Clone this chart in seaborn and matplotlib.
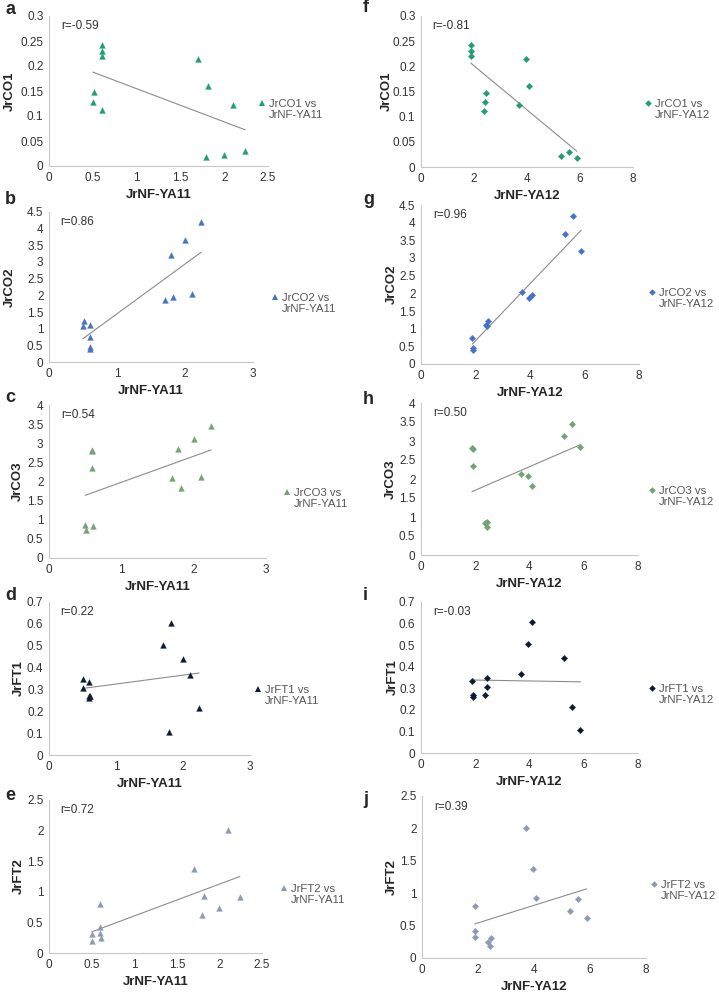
import numpy as np
import pandas as pd
import matplotlib
matplotlib.use("Agg")
import matplotlib.pyplot as plt
import seaborn as sns
from matplotlib.lines import Line2D
from matplotlib.ticker import MultipleLocator, FuncFormatter

sns.set_style("white")
plt.rcParams["font.family"] = ["Liberation Sans", "DejaVu Sans"]

# 12 samples, expression of JrNF-YA11 / JrNF-YA12 and target genes
nfya11 = [0.60, 0.60, 0.60, 0.51, 0.50, 0.61, 1.70, 1.82, 2.10, 1.79, 2.00, 2.24]
nfya12 = [1.88, 1.90, 1.90, 2.45, 2.43, 2.37, 3.95, 4.08, 3.70, 5.88, 5.28, 5.58]

co1 = [0.243, 0.231, 0.220, 0.148, 0.129, 0.112, 0.215, 0.161, 0.123, 0.018, 0.022, 0.030]
co2 = [0.74, 0.45, 0.40, 1.22, 1.08, 1.10, 1.87, 1.96, 2.05, 3.21, 3.67, 4.19]
co3 = [2.82, 2.80, 2.35, 0.74, 0.86, 0.84, 2.08, 1.82, 2.13, 2.84, 3.12, 3.44]
ft1 = [0.335, 0.270, 0.260, 0.348, 0.305, 0.268, 0.505, 0.605, 0.365, 0.105, 0.440, 0.215]
ft2 = [0.80, 0.42, 0.32, 0.31, 0.19, 0.25, 1.37, 0.93, 2.01, 0.62, 0.73, 0.91]

genes = ["JrCO1", "JrCO2", "JrCO3", "JrFT1", "JrFT2"]
gene_vals = [co1, co2, co3, ft1, ft2]
gene_colors = ["#1f9e70", "#4472c4", "#72a374", "#0d1b2e", "#8e9ab4"]
r_left = ["r=-0.59", "r=0.86", "r=0.54", "r=0.22", "r=0.72"]
r_right = ["r=-0.81", "r=0.96", "r=0.50", "r=-0.03", "r=0.39"]
ymax = [0.3, 4.5, 4, 0.7, 2.5]
ystep = [0.05, 0.5, 0.5, 0.1, 0.5]
xmax_left = [2.5, 3, 3, 3, 2.5]
xstep_left = [0.5, 1, 1, 1, 0.5]
letters_left = ["a", "b", "c", "d", "e"]
letters_right = ["f", "g", "h", "i", "j"]

df = pd.DataFrame({"JrNF-YA11": nfya11, "JrNF-YA12": nfya12})
for g, v in zip(genes, gene_vals):
    df[g] = v

W, H = 719, 992
fig = plt.figure(figsize=(W / 100, H / 100), dpi=100)

# axes boxes in pixels: left, right, top, bottom
boxes_left = [(49, 268, 16, 166), (49, 253, 212, 362), (49, 266, 405, 558),
              (49, 250, 602, 755), (49, 262, 800, 953)]
boxes_right = [(421, 633, 16, 167), (421, 639, 205, 364), (421, 638, 403, 555),
               (421, 638, 602, 753), (422, 646, 796, 958)]
leg_left = [(262, 105), (275, 299), (287, 494), (258, 691), (284, 890)]
leg_right = [(648, 105), (652, 294), (652, 492), (652, 690), (654, 886)]
let_left = [(5, 10), (5, 200), (5, 398), (5, 595), (5, 795)]
let_right = [(363, 8), (363, 200), (363, 400), (363, 595), (363, 800)]
ylab_left = [10, 10, 18, 19, 19]
ylab_right = [387, 392, 391, 393, 392]

fmt = FuncFormatter(lambda v, p: "{:g}".format(round(v, 3)))


def panel(box, xcol, gene, color, marker, ms, xmax, xstep, ylim, ys, rtxt,
          leg, letpos, letter, ylab_x):
    l, r, t, b = box
    ax = fig.add_axes([l / W, 1 - b / H, (r - l) / W, (b - t) / H])
    sns.scatterplot(data=df, x=xcol, y=gene, marker=marker, color=color, s=ms,
                    edgecolor=color, linewidth=0.2, ax=ax, zorder=3, legend=False)
    sns.regplot(data=df, x=xcol, y=gene, scatter=False, ci=None, ax=ax,
                color="#8c8c8c", line_kws={"lw": 0.8})
    ax.set_xlim(0, xmax)
    ax.set_ylim(0, ylim)
    ax.xaxis.set_major_locator(MultipleLocator(xstep))
    ax.yaxis.set_major_locator(MultipleLocator(ys))
    ax.xaxis.set_major_formatter(fmt)
    ax.yaxis.set_major_formatter(fmt)
    for s in ["top", "right"]:
        ax.spines[s].set_visible(False)
    for s in ["left", "bottom"]:
        ax.spines[s].set_color("#c8c8c8")
        ax.spines[s].set_linewidth(0.8)
    ax.tick_params(axis="both", labelsize=8.5, colors="#c8c8c8", labelcolor="#333333",
                   length=2, width=0.6, pad=2)
    ax.set_xlabel(xcol, fontsize=9.5, fontweight="bold", labelpad=4)
    ax.set_ylabel(gene, fontsize=9.5, fontweight="bold")
    ax.yaxis.set_label_coords((ylab_x - l) / (r - l), 0.5)
    ax.yaxis.label.set_va("center")
    ax.text(0.055, 0.935, rtxt, transform=ax.transAxes, fontsize=8.5,
            color="#333333", va="center")
    # legend: marker beside the first line, second line without a marker
    h1 = Line2D([], [], linestyle="none", marker=marker, color=color,
                markersize=np.sqrt(ms), markeredgewidth=0)
    h2 = Line2D([], [], linestyle="none")
    ax.legend([h1, h2], [gene + " vs", xcol], loc="upper left",
              bbox_to_anchor=((leg[0] - 3) / W, 1 - (leg[1] - 6) / H),
              bbox_transform=fig.transFigure, frameon=False, fontsize=8.2,
              handlelength=0.5, handletextpad=0.35, borderpad=0, borderaxespad=0,
              labelspacing=0.1, labelcolor="#555555")
    fig.text(letpos[0] / W, 1 - letpos[1] / H, letter, fontsize=13, fontweight="bold",
             va="center", ha="left")
    return ax


for k in range(5):
    panel(boxes_left[k], "JrNF-YA11", genes[k], gene_colors[k], "^", 18,
          xmax_left[k], xstep_left[k], ymax[k], ystep[k], r_left[k],
          leg_left[k], let_left[k], letters_left[k], ylab_left[k])
    panel(boxes_right[k], "JrNF-YA12", genes[k], gene_colors[k], "D", 11,
          8, 2, ymax[k], ystep[k], r_right[k], leg_right[k], let_right[k],
          letters_right[k], ylab_right[k])

fig.savefig("out.png", dpi=100)
